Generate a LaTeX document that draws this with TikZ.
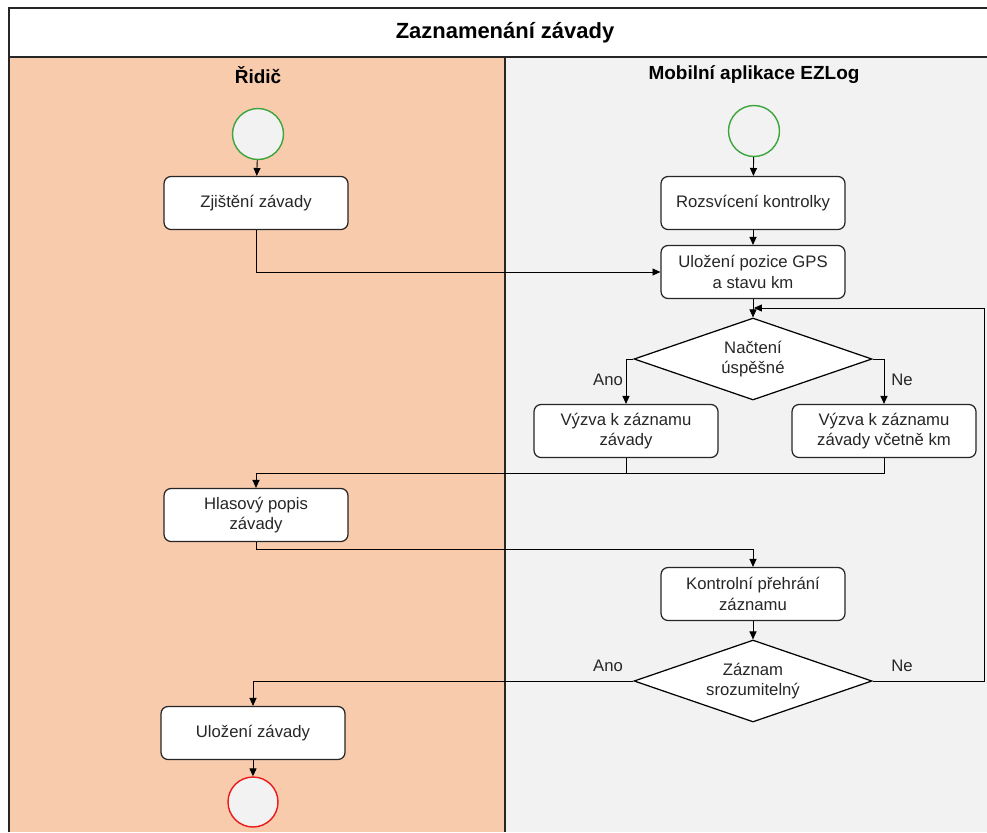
\documentclass[tikz,border=0pt]{standalone}
\usepackage{fontspec}
\setmainfont{Liberation Sans}
\usetikzlibrary{arrows.meta,shapes.geometric,positioning}
\definecolor{drvlane}{RGB}{248,203,173}
\definecolor{applane}{RGB}{242,242,242}
\definecolor{startgreen}{RGB}{60,165,60}
\definecolor{endred}{RGB}{235,25,25}

\begin{document}
\begin{tikzpicture}[x=0.02cm, y=-0.02cm,
    box/.style={rectangle, draw=black!85, fill=white, rounded corners=4pt, minimum width=3.68cm, minimum height=1.06cm, align=center, font=\fontsize{9.5}{11.5}\selectfont, text=black!85, line width=0.7pt},
    decision/.style={diamond, draw=black, fill=white, shape aspect=2.9, minimum width=4.76cm, minimum height=1.64cm, inner sep=0pt, align=center, font=\fontsize{9.5}{11.5}\selectfont, text=black!85, line width=0.7pt},
    startnode/.style={circle, draw=startgreen, fill=applane, minimum size=1.02cm, inner sep=0pt, line width=0.8pt},
    endnode/.style={circle, draw=endred, fill=applane, minimum size=1.0cm, inner sep=0pt, line width=0.8pt},
    lbl/.style={font=\fontsize{9.5}{11.5}\selectfont, text=black!85},
    head/.style={font=\bfseries\fontsize{10.8}{13}\selectfont},
    arrow/.style={-{Triangle[length=4.5pt,width=4pt]}, line width=0.5pt}
]
    \useasboundingbox (0,0) rectangle (987,832);

    % swimlanes
    \fill[drvlane] (9,57) rectangle (505,832);
    \fill[applane] (505,57) rectangle (987,832);
    \draw[line width=0.8pt, black!85] (9,832) -- (9,8) -- (987,8);
    \draw[line width=0.8pt, black!85] (9,57) -- (987,57);
    \draw[line width=0.8pt, black!85] (505,57) -- (505,832);

    \node[head, font=\bfseries\fontsize{12.5}{15}\selectfont] (title) at (505,33) {Zaznamenání závady};
    \node[head] (drvhead) at (258,75) {Řidič};
    \node[head] (apphead) at (754,75) {Mobilní aplikace EZLog};

    % driver lane
    \node[startnode] (drvstart) at (258,134) {};
    \node[box] (zjisteni) at (256,203) {Zjištění závady};
    \node[box] (hlasovy) at (256,515) {Hlasový popis\\závady};
    \node[box] (ulozeni) at (253,733) {Uložení závady};
    \node[endnode] (drvend) at (253,802) {};

    % app lane
    \node[startnode] (appstart) at (754,131) {};
    \node[box] (rozsviceni) at (753,203) {Rozsvícení kontrolky};
    \node[box] (gps) at (753,272) {Uložení pozice GPS\\a stavu km};
    \node[decision] (nacteni) at (753,359) {Načtení\\úspěšné};
    \node[box] (vyzva) at (626,431) {Výzva k záznamu\\závady};
    \node[box] (vyzvakm) at (884,431) {Výzva k záznamu\\závady včetně km};
    \node[box] (kontrola) at (753,594) {Kontrolní přehrání\\záznamu};
    \node[decision] (srozum) at (753,681) {Záznam\\srozumitelný};

    \node[lbl] (ano1) at (608,380) {Ano};
    \node[lbl] (ne1) at (902,380) {Ne};
    \node[lbl] (ano2) at (608,666) {Ano};
    \node[lbl] (ne2) at (902,666) {Ne};

    \coordinate (merge) at (754,308);
    \coordinate (back) at (984,308);

    \draw[arrow] (drvstart) -- (zjisteni);
    \draw[arrow] (zjisteni.south) |- (gps.west);
    \draw[arrow] (appstart) -- (rozsviceni);
    \draw[arrow] (rozsviceni) -- (gps);
    \draw[arrow] (gps) -- (nacteni);
    \draw[arrow] (nacteni.west) -| (vyzva.north);
    \draw[arrow] (nacteni.east) -| (vyzvakm.north);
    \draw (vyzva.south) -- ++(0,15);
    \draw[arrow] (vyzvakm.south) -- ++(0,15) -| (hlasovy.north);
    \draw[arrow] (hlasovy.south) -- ++(0,7) -| (kontrola.north);
    \draw[arrow] (kontrola) -- (srozum);
    \draw[arrow] (srozum.west) -| (ulozeni.north);
    \draw[arrow] (srozum.east) -| (back) -- (merge);
    \draw[arrow] (ulozeni) -- (drvend);
\end{tikzpicture}
\end{document}
